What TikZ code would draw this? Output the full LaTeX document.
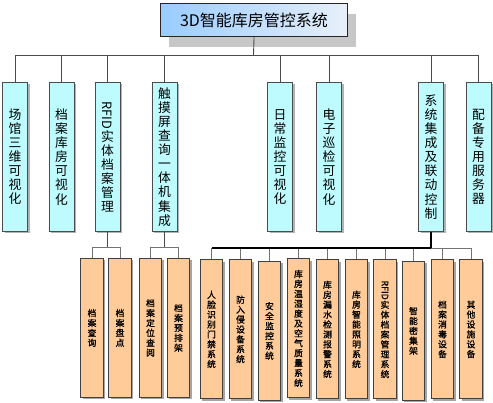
\documentclass[tikz,border=0pt]{standalone}
\usepackage{fontspec}
\usepackage{graphicx}
\newfontfamily\cjk{Noto Sans CJK SC}
\newfontfamily\cjkb[FakeBold=1.2]{Noto Sans CJK SC}
\usetikzlibrary{shadows}
\definecolor{lcyan}{HTML}{BDFBFE}
\definecolor{lorange}{HTML}{FFCC99}
\definecolor{tblue}{HTML}{99CCFF}
\definecolor{tlight}{HTML}{E8F0FA}
\definecolor{linegrey}{HTML}{4A4A4A}
\newcommand\rfid{\rotatebox{-90}{RFID}}
\tikzset{
  every node/.style={inner sep=0pt, align=center},
  topbox/.style={draw=black!85, line width=1.1pt, left color=tblue, right color=tlight,
    minimum width=187pt, minimum height=33pt, anchor=north west,
    font=\cjk\fontsize{16}{18}\selectfont,
    drop shadow={shadow xshift=8pt, shadow yshift=-10pt, fill=black!22, opacity=1}},
  lvtwo/.style={draw=black!70, line width=0.8pt, fill=lcyan,
    minimum width=25pt, minimum height=149pt, anchor=north,
    font=\cjk\fontsize{12.8}{14.1}\selectfont,
    drop shadow={shadow xshift=2pt, shadow yshift=-2pt, fill=black!30, opacity=1}},
  lvthree/.style={draw=black!75, line width=0.8pt, fill=lorange,
    minimum width=22.5pt, minimum height=139pt, anchor=north,
    font=\cjkb\fontsize{8.8}{9.9}\selectfont,
    drop shadow={shadow xshift=2pt, shadow yshift=-2pt, fill=black!35, opacity=1}},
  conn/.style={draw=linegrey, line width=0.9pt},
  connthin/.style={draw=black!55, line width=0.8pt},
  connbold/.style={draw=black, line width=1.4pt},
}
\begin{document}
\begin{tikzpicture}[x=1pt,y=-1pt]
\useasboundingbox (0,0) rectangle (493,403);
\node[topbox] (top) at (160,3) {3D智能库房管控系统};

\node[lvtwo] (a1) at (15,82) {场\\馆\\三\\维\\可\\视\\化};
\node[lvtwo] (a2) at (61.5,82) {档\\案\\库\\房\\可\\视\\化};
\node[lvtwo] (a3) at (107.5,82) {\rfid\\实\\体\\档\\案\\管\\理};
\node[lvtwo] (a4) at (164.5,82) {触\\摸\\屏\\查\\询\\一\\体\\机\\集\\成};
\node[lvtwo] (a5) at (280,82) {日\\常\\监\\控\\可\\视\\化};
\node[lvtwo] (a6) at (329,82) {电\\子\\巡\\检\\可\\视\\化};
\node[lvtwo] (a7) at (431,82) {系\\统\\集\\成\\及\\联\\动\\控\\制};
\node[lvtwo] (a8) at (478.5,82) {配\\备\\专\\用\\服\\务\\器};

\node[lvthree] (b1) at (92,258) {档\\案\\查\\询};
\node[lvthree] (b2) at (120,258) {档\\案\\盘\\点};
\node[lvthree] (b3) at (150.5,258) {档\\案\\定\\位\\查\\阅};
\node[lvthree] (b4) at (178.5,258) {档\\案\\预\\排\\架};

\node[lvthree] (c1) at (211.5,259.5) {人\\脸\\识\\别\\门\\禁\\系\\统};
\node[lvthree] (c2) at (240.5,259.5) {防\\入\\侵\\设\\备\\系\\统};
\node[lvthree] (c3) at (269.5,261) {安\\全\\监\\控\\系\\统};
\node[lvthree] (c4) at (298.5,258.5) {库\\房\\温\\湿\\度\\及\\空\\气\\质\\量\\系\\统};
\node[lvthree] (c5) at (327.5,259.5) {库\\房\\漏\\水\\检\\测\\报\\警\\系\\统};
\node[lvthree] (c6) at (356.5,259.5) {库\\房\\智\\能\\照\\明\\系\\统};
\node[lvthree] (c7) at (385,259.5) {\rfid\\实\\体\\档\\案\\管\\理\\系\\统};
\node[lvthree] (c8) at (413.5,261) {智\\能\\密\\集\\架};
\node[lvthree] (c9) at (442.5,259.5) {档\\案\\消\\毒\\设\\备};
\node[lvthree] (c10) at (471,259.5) {其\\他\\设\\施\\设\\备};

\coordinate (bus) at (253.5,55);
\coordinate (sb3) at (107.5,247);
\coordinate (sb4) at (164.5,247);
\coordinate (sb7) at (431,248);

\draw[conn] (top.south) -- (bus);
\foreach \n in {a1,a2,a3,a4,a5,a6,a7,a8} \draw[conn] (\n.north) |- (bus);

\draw[conn] (a3.south) -- (sb3);
\draw[connthin] (b1.north) |- (sb3);
\draw[connthin] (b2.north) |- (sb3);
\draw[conn] (a4.south) -- (sb4);
\draw[connthin] (b3.north) |- (sb4);
\draw[connthin] (b4.north) |- (sb4);

\foreach \n in {c1,c2,c3,c4,c5,c6,c7,c8,c9,c10} \draw[connthin] (\n.north) |- (sb7);
\draw[connbold] (c1.north |- sb7) -- (sb7);
\draw[connbold] (a7.south) -- (sb7);
\end{tikzpicture}
\end{document}
